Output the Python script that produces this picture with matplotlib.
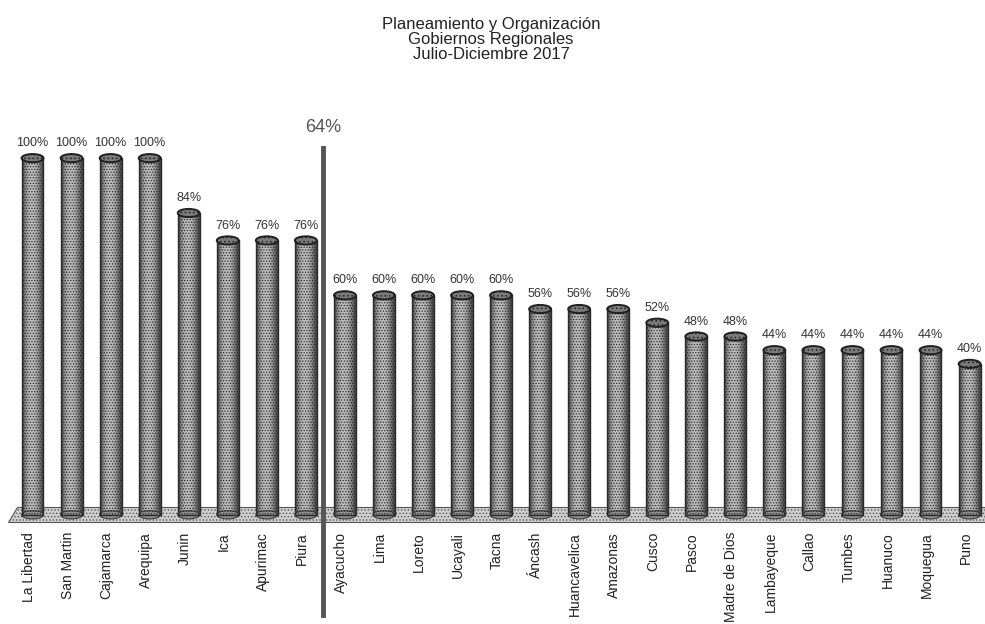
import matplotlib
matplotlib.use('Agg')
import matplotlib.pyplot as plt
import numpy as np
from matplotlib.patches import Ellipse, Polygon, Rectangle

plt.rcParams['font.family'] = ['Liberation Sans', 'DejaVu Sans']
plt.rcParams['hatch.color'] = '#5a5a5a'
plt.rcParams['hatch.linewidth'] = 0.6

# datos
regiones = ['La Libertad', 'San Martin', 'Cajamarca', 'Arequipa', 'Junin', 'Ica',
            'Apurimac', 'Piura', 'Ayacucho', 'Lima', 'Loreto', 'Ucayali', 'Tacna',
            'Áncash', 'Huancavelica', 'Amazonas', 'Cusco', 'Pasco', 'Madre de Dios',
            'Lambayeque', 'Callao', 'Tumbes', 'Huanuco', 'Moquegua', 'Puno']
valores = [100, 100, 100, 100, 84, 76, 76, 76, 60, 60, 60, 60, 60,
           56, 56, 56, 52, 48, 48, 44, 44, 44, 44, 44, 40]
promedio = 64
titulo = 'Planeamiento y Organización\nGobiernos Regionales\nJulio-Diciembre 2017'

fig = plt.figure(figsize=(9.85, 6.24), dpi=100)
ax = fig.add_axes([0.0132, 0.1506, 0.987, 0.641])
ax.set_xlim(-0.5, 24.4)
ax.set_ylim(-8.45, 108.2)
ax.axis('off')

# piso 3D
piso = Polygon([[-0.4, -1.75], [24.4, -1.75], [24.4, -6.1], [-0.63, -6.1]],
               closed=True, facecolor='#cfcfcf', edgecolor='#555555', lw=0.8,
               hatch='.....', clip_on=False, zorder=1)
ax.add_patch(piso)

ancho = 0.56
base = -4.0
grad = np.array([[0.35, 0.55, 0.68, 0.74, 0.74, 0.7, 0.6, 0.45, 0.3]])
for i, v in enumerate(valores):
    rect = Rectangle((i - ancho / 2, base), ancho, v - base, facecolor='none',
                     edgecolor='#2a2a2a', lw=1.0, hatch='......', zorder=3)
    ax.add_patch(rect)
    im = ax.imshow(grad, cmap='gray', vmin=0, vmax=1, aspect='auto',
                   extent=(i - ancho / 2, i + ancho / 2, base, v), zorder=2)
    im.set_clip_path(rect)
    ax.add_patch(Ellipse((i, base), ancho, 2.4, facecolor='#8f8f8f',
                         edgecolor='#3a3a3a', lw=0.8, zorder=2))
    ax.add_patch(Ellipse((i, v), ancho, 2.4, facecolor='#7a7a7a',
                         edgecolor='#1f1f1f', lw=1.4, hatch='....', zorder=4))
    ax.text(i, v + 2.6, f'{v}%', ha='center', va='bottom', fontsize=9,
            color='#333333', zorder=5)

# linea del promedio
ax.plot([7.45, 7.45], [102.9, -33.2], color='#555555', lw=3.5, clip_on=False,
        zorder=6)
ax.text(7.45, 106.5, f'{promedio}%', ha='center', va='bottom', fontsize=13,
        color='#555555')

# etiquetas de regiones
for i, r in enumerate(regiones):
    ax.text(i - 0.1, -9.0, r, rotation=90, ha='center', va='top', fontsize=10,
            color='#222222', clip_on=False)

fig.text(0.4985, 0.972, titulo, ha='center', va='top', fontsize=12,
         linespacing=1.0, color='#222222')

fig.savefig('out.png', dpi=100)
